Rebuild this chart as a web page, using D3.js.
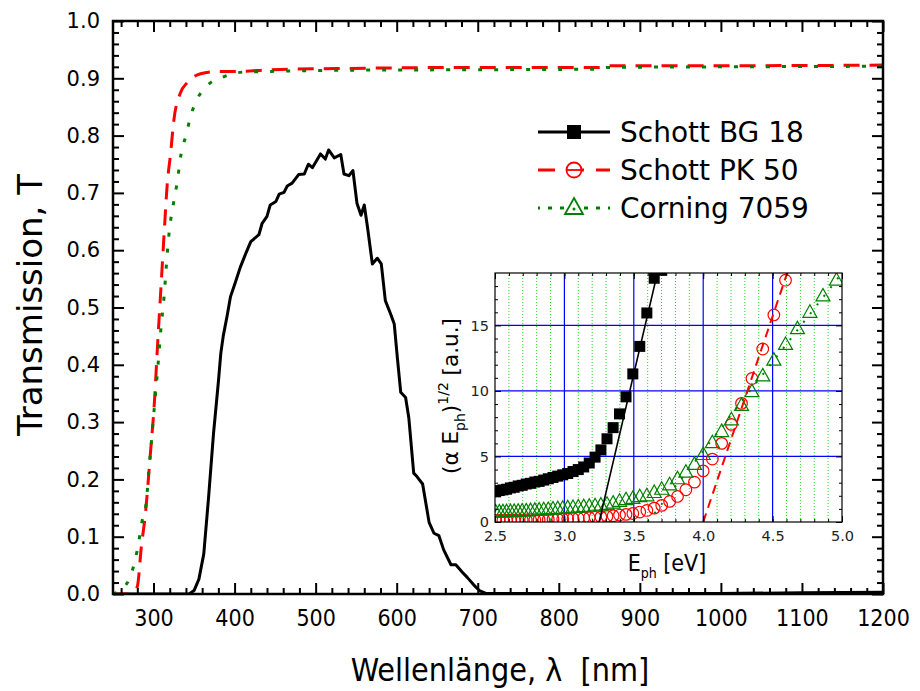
<!DOCTYPE html>
<html>
<head>
<meta charset="utf-8">
<script src="https://cdn.jsdelivr.net/npm/d3@7"></script>
<style>
	body { margin: 0; background: #fff; }
</style>
</head>
<body>
<svg id="chart" width="920" height="691"></svg>
<script>
// main plot: transmission over wavelength (nm)
const bg18Wl = [250, 344, 350, 356, 362, 368, 374, 380, 383, 386, 391, 395, 401, 407, 414, 420, 430, 434, 440, 444,
	451, 455, 461, 465, 471, 479, 486, 491, 496, 506, 512, 516, 523, 531, 535, 541, 546, 551, 556, 560,
	564, 570, 576, 581, 586, 593, 597, 601, 605, 611, 615, 621, 625, 632, 640, 646, 652, 658, 667, 673,
	681, 687, 695, 702, 710, 1000, 1100, 1200]
const bg18T = [0, 0, 0.006, 0.026, 0.07, 0.17, 0.28, 0.37, 0.42, 0.45, 0.487, 0.519, 0.544, 0.57, 0.595, 0.615, 0.627, 0.647, 0.659, 0.679,
	0.685, 0.698, 0.701, 0.712, 0.717, 0.732, 0.733, 0.75, 0.744, 0.768, 0.759, 0.775, 0.761, 0.767, 0.733, 0.73, 0.739, 0.682, 0.661, 0.679,
	0.64, 0.576, 0.586, 0.576, 0.512, 0.487, 0.471, 0.41, 0.352, 0.343, 0.307, 0.211, 0.205, 0.192, 0.125, 0.106, 0.102, 0.077, 0.051, 0.051,
	0.038, 0.029, 0.016, 0.006, 0.001, 0.001, 0.002, 0.003]
const pk50Wl = [250, 268, 275, 280, 285, 290, 296, 301, 305, 309, 313, 317, 321, 325, 333, 342, 358, 379, 403, 445, 527, 708, 850, 860, 1000, 1200]
const pk50T = [0, 0, 0.003, 0.013, 0.083, 0.14, 0.243, 0.333, 0.435, 0.531, 0.627, 0.717, 0.768, 0.826, 0.874, 0.893, 0.908, 0.912, 0.912, 0.915,
	0.917, 0.919, 0.919, 0.922, 0.922, 0.923]
const c7059Wl = [250, 255, 262, 270, 280, 286, 291, 294, 298, 301, 305, 309, 313, 317, 319, 325, 329, 334, 340, 346,
	354, 366, 387, 412, 445, 527, 708, 850, 860, 1000, 1200]
const c7059T = [0, 0.003, 0.01, 0.026, 0.077, 0.128, 0.16, 0.211, 0.275, 0.326, 0.39, 0.461, 0.519, 0.595, 0.627, 0.685, 0.717, 0.768, 0.8, 0.835,
	0.864, 0.887, 0.903, 0.911, 0.912, 0.914, 0.915, 0.916, 0.919, 0.92, 0.921]

const xTicks = [300, 400, 500, 600, 700, 800, 900, 1000, 1100, 1200]
const yTicks = [0, 0.1, 0.2, 0.3, 0.4, 0.5, 0.6, 0.7, 0.8, 0.9, 1.0]
const seriesNames = ["Schott BG 18", "Schott PK 50", "Corning 7059"]

// inset: Tauc plot (alpha*E)^1/2 over photon energy (eV)
const ephPts = [2.505, 2.531, 2.557, 2.583, 2.611, 2.638, 2.667, 2.696, 2.725, 2.756, 2.787, 2.818, 2.851, 2.884, 2.918, 2.952, 2.988,
	3.024, 3.062, 3.100, 3.139, 3.179, 3.221, 3.263, 3.307, 3.351, 3.397, 3.444, 3.493, 3.543, 3.594, 3.647, 3.701,
	3.758, 3.815, 3.875, 3.937, 4.000, 4.066, 4.133, 4.203, 4.276, 4.351, 4.429, 4.509, 4.593, 4.679, 4.769, 4.863, 4.960]
const bg18Tauc = [2.3, 2.4, 2.45, 2.5, 2.6, 2.65, 2.75, 2.8, 2.9, 2.95, 3.05, 3.1, 3.2, 3.3, 3.4, 3.5, 3.6, 3.7, 3.85, 4.0,
	4.2, 4.5, 4.95, 5.5, 6.35, 7.2, 8.25, 9.55, 11.3, 13.4, 15.95, 18.6, 19.2]
const pk50Tauc = [0.12, 0.12, 0.13, 0.13, 0.14, 0.14, 0.15, 0.15, 0.16, 0.17, 0.17, 0.18, 0.19, 0.2, 0.21, 0.22, 0.24, 0.25, 0.27, 0.29,
	0.31, 0.33, 0.36, 0.39, 0.43, 0.48, 0.53, 0.58, 0.65, 0.76, 0.88, 1.06, 1.27, 1.57, 1.95, 2.46, 3.04, 3.9, 4.8, 6.0,
	7.45, 9.05, 10.95, 13.2, 15.8, 18.45]
const c7059Tauc = [0.76, 0.77, 0.78, 0.79, 0.8, 0.81, 0.82, 0.84, 0.85, 0.87, 0.89, 0.91, 0.93, 0.96, 0.99, 1.02, 1.05, 1.08, 1.11, 1.14,
	1.17, 1.2, 1.24, 1.29, 1.35, 1.44, 1.58, 1.7, 1.8, 1.93, 2.0, 2.25, 2.5, 2.84, 3.3, 3.8, 4.4, 5.15, 6.05, 6.9,
	7.8, 8.9, 9.95, 11.15, 12.35, 13.55, 14.75, 16.0, 17.25, 18.45]
// linear fits (band gap extrapolation)
const bg18Fit = [[3.25, 0], [3.67, 19]]
const pk50Fit = [[4.0, 0], [4.605, 19]]
const c7059Fit = [[3.6, 0], [5.0, 19]]
const insetXTicks = [2.5, 3.0, 3.5, 4.0, 4.5, 5.0]
const insetYTicks = [0, 5, 10, 15]

const RED = "#ff0000"
const GREEN = "#008000"
const FONT = "DejaVu Sans, Verdana, sans-serif"
const FONT_C = "DejaVu Sans Condensed, Liberation Sans Narrow, sans-serif"

const svg = d3.select("#chart")
const defs = svg.append("defs")

function mirrorAxes(g, xs, ys, o){
	/* frame with inward ticks on all four sides, labels only bottom and left */
	const [y0, y1] = ys.range()
	const [x0, x1] = xs.range()
	const axes = [
		[d3.axisBottom(xs), `translate(0,${y0})`, o.xMajor, o.xMinor, o.xFmt],
		[d3.axisTop(xs), `translate(0,${y1})`, o.xMajor, o.xMinor, null],
		[d3.axisLeft(ys), `translate(${x0},0)`, o.yMajor, o.yMinor, o.yFmt],
		[d3.axisRight(ys), `translate(${x1},0)`, o.yMajor, o.yMinor, null]
	]
	axes.forEach(([ax, tr, major, minor, fmt], i) => {
		g.append("g").attr("transform", tr)
			.call(ax.tickValues(minor).tickSize(-o.minor).tickFormat(""))
		const ag = g.append("g").attr("transform", tr)
			.call(ax.tickValues(major).tickSize(-o.major)
				.tickPadding(i < 2 ? o.padX : o.padY)
				.tickFormat(fmt ? fmt : ""))
		ag.selectAll("text")
			.attr("fill", o.labelFill)
			.style("font-family", i < 2 ? o.fontX : o.fontY)
			.style("font-size", (i < 2 ? o.sizeX : o.sizeY) + "px")
	})
	g.selectAll(".domain").remove()
	g.selectAll(".tick line").attr("stroke", "#000").attr("stroke-width", o.tickWidth)
	g.append("rect")
		.attr("x", x0).attr("y", y1)
		.attr("width", x1 - x0).attr("height", y0 - y1)
		.attr("fill", "none").attr("stroke", "#000").attr("stroke-width", o.frameWidth)
}

// ---------- main plot ----------
const x = d3.scaleLinear().domain([250, 1200]).range([113, 883])
const y = d3.scaleLinear().domain([0, 1]).range([594, 21])

defs.append("clipPath").attr("id", "mainClip").append("rect")
	.attr("x", 113).attr("y", 21).attr("width", 770).attr("height", 573)

const mainLine = d3.line().x(d => x(d[0])).y(d => y(d[1]))
const smoothLine = d3.line().x(d => x(d[0])).y(d => y(d[1])).curve(d3.curveMonotoneX)

const curves = svg.append("g").attr("clip-path", "url(#mainClip)")
curves.append("path")
	.attr("d", mainLine(d3.zip(bg18Wl, bg18T)))
	.attr("fill", "none").attr("stroke", "#000").attr("stroke-width", 3)
	.attr("stroke-linejoin", "round")
curves.append("path")
	.attr("d", smoothLine(d3.zip(pk50Wl, pk50T)))
	.attr("fill", "none").attr("stroke", RED).attr("stroke-width", 3)
	.attr("stroke-dasharray", "16,10")
curves.append("path")
	.attr("d", smoothLine(d3.zip(c7059Wl, c7059T)))
	.attr("fill", "none").attr("stroke", GREEN).attr("stroke-width", 3)
	.attr("stroke-dasharray", "4,12")

mirrorAxes(svg.append("g"), x, y, {
	xMajor: xTicks, xMinor: d3.range(260, 1200, 20).filter(v => v % 100),
	yMajor: yTicks, yMinor: d3.range(0.02, 1, 0.02).filter(v => Math.abs(v * 10 - Math.round(v * 10)) > 1e-6),
	major: 11, minor: 6, padX: 16, padY: 13,
	xFmt: d3.format("d"), yFmt: d3.format(".1f"),
	fontX: FONT_C, fontY: FONT, sizeX: 23, sizeY: 21, labelFill: "#000",
	tickWidth: 2, frameWidth: 2.5
})

// axis titles
svg.append("text")
	.attr("transform", "translate(42,305) rotate(-90)")
	.attr("text-anchor", "middle")
	.style("font-family", FONT).style("font-size", "34px")
	.text("Transmission, T")
svg.append("text")
	.attr("x", 500).attr("y", 681)
	.attr("text-anchor", "middle")
	.attr("xml:space", "preserve")
	.style("font-family", FONT_C).style("font-size", "32px")
	.text("Wellenlänge, λ  [nm]")

// ---------- legend ----------
const legend = svg.append("g")
const legRows = [132, 170, 208]
const legStyle = [
	{color: "#000", dash: null},
	{color: RED, dash: "17,12"},
	{color: GREEN, dash: "4,8"}
]
seriesNames.forEach((name, i) => {
	const ly = legRows[i]
	const st = legStyle[i]
	legend.append("line")
		.attr("x1", 538).attr("x2", 610).attr("y1", ly).attr("y2", ly)
		.attr("stroke", st.color).attr("stroke-width", 3)
		.attr("stroke-dasharray", st.dash)
		.attr("stroke-dashoffset", i == 2 ? 2 : 0)
	if (i == 0){
		legend.append("rect").attr("x", 567).attr("y", ly - 7).attr("width", 14).attr("height", 14).attr("fill", "#000")
	} else if (i == 1){
		legend.append("circle").attr("cx", 574).attr("cy", ly).attr("r", 7.5)
			.attr("fill", "#fff").attr("stroke", RED).attr("stroke-width", 1.8)
		legend.append("line").attr("x1", 567).attr("x2", 581).attr("y1", ly).attr("y2", ly)
			.attr("stroke", RED).attr("stroke-width", 1.8)
	} else {
		legend.append("path")
			.attr("d", `M574,${ly - 10}L583,${ly + 6}L565,${ly + 6}Z`)
			.attr("fill", "#fff").attr("stroke", GREEN).attr("stroke-width", 1.8)
		legend.append("circle").attr("cx", 574).attr("cy", ly + 1).attr("r", 1.5).attr("fill", GREEN)
	}
	legend.append("text")
		.attr("x", 620).attr("y", ly)
		.attr("dominant-baseline", "central")
		.style("font-family", FONT).style("font-size", "28px")
		.text(name)
})

// ---------- inset ----------
const xi = d3.scaleLinear().domain([2.5, 5.0]).range([495, 842])
const yi = d3.scaleLinear().domain([0, 19]).range([522, 273])
const inset = svg.append("g")

inset.append("rect")
	.attr("x", 495).attr("y", 273).attr("width", 347).attr("height", 249)
	.attr("fill", "#fff")
defs.append("clipPath").attr("id", "insetClip").append("rect")
	.attr("x", 495).attr("y", 273).attr("width", 347).attr("height", 249)

// grid: fine green dotted verticals, blue majors
const minorE = d3.range(26, 50).map(v => v / 10).filter(v => Math.abs(v * 2 - Math.round(v * 2)) > 1e-6)
inset.append("g").selectAll("line").data(minorE).join("line")
	.attr("x1", d => xi(d)).attr("x2", d => xi(d))
	.attr("y1", yi(0)).attr("y2", yi(19))
	.attr("stroke", "#22dd22").attr("stroke-width", 1).attr("stroke-dasharray", "1,2")
inset.append("g").selectAll("line").data([3.0, 3.5, 4.0, 4.5]).join("line")
	.attr("x1", d => xi(d)).attr("x2", d => xi(d))
	.attr("y1", yi(0)).attr("y2", yi(19))
	.attr("stroke", "#0000ff").attr("stroke-width", 1.2)
inset.append("g").selectAll("line").data([5, 10, 15]).join("line")
	.attr("x1", xi(2.5)).attr("x2", xi(5))
	.attr("y1", d => yi(d)).attr("y2", d => yi(d))
	.attr("stroke", "#0000ff").attr("stroke-width", 1.2)

const insetPlot = inset.append("g").attr("clip-path", "url(#insetClip)")
const fitLine = d3.line().x(d => xi(d[0])).y(d => yi(d[1]))

// markers
insetPlot.append("g").selectAll("rect").data(d3.zip(ephPts, bg18Tauc)).join("rect")
	.attr("x", d => xi(d[0]) - 5.5).attr("y", d => yi(d[1]) - 5.5)
	.attr("width", 11).attr("height", 11).attr("fill", "#000")
insetPlot.append("g").selectAll("circle").data(d3.zip(ephPts, pk50Tauc)).join("circle")
	.attr("cx", d => xi(d[0])).attr("cy", d => yi(d[1])).attr("r", 5.8)
	.attr("fill", "none").attr("stroke", RED).attr("stroke-width", 1.2)
insetPlot.append("g").selectAll("path").data(d3.zip(ephPts, c7059Tauc)).join("path")
	.attr("d", d => {
		const cx = xi(d[0]), cy = yi(d[1])
		return `M${cx},${cy - 7.5}L${cx + 7},${cy + 5}L${cx - 7},${cy + 5}Z`
	})
	.attr("fill", "none").attr("stroke", GREEN).attr("stroke-width", 1.2)

// fit lines
insetPlot.append("path").attr("d", fitLine(bg18Fit))
	.attr("fill", "none").attr("stroke", "#000").attr("stroke-width", 1.6)
insetPlot.append("path").attr("d", fitLine(pk50Fit))
	.attr("fill", "none").attr("stroke", RED).attr("stroke-width", 2)
	.attr("stroke-dasharray", "9,6")
insetPlot.append("path").attr("d", fitLine(c7059Fit))
	.attr("fill", "none").attr("stroke", GREEN).attr("stroke-width", 2)
	.attr("stroke-dasharray", "2,9")

mirrorAxes(inset.append("g"), xi, yi, {
	xMajor: insetXTicks, xMinor: d3.range(26, 50).map(v => v / 10),
	yMajor: insetYTicks, yMinor: d3.range(1, 19).filter(v => v % 5),
	major: 6, minor: 3, padX: 9, padY: 6,
	xFmt: d3.format(".1f"), yFmt: d3.format("d"),
	fontX: FONT, fontY: FONT, sizeX: 14.5, sizeY: 14.5, labelFill: "#222",
	tickWidth: 1, frameWidth: 1.2
})

// inset axis titles
const ixt = inset.append("text")
	.attr("x", 667).attr("y", 571)
	.attr("text-anchor", "middle")
	.style("font-family", FONT_C).style("font-size", "23px")
ixt.append("tspan").text("E")
ixt.append("tspan").attr("dy", 7).style("font-size", "14px").text("ph")
ixt.append("tspan").attr("dy", -7).text(" [eV]")

const iyt = inset.append("text")
	.attr("transform", "translate(458,396) rotate(-90)")
	.attr("text-anchor", "middle")
	.style("font-family", FONT).style("font-size", "21.5px")
iyt.append("tspan").text("(α E")
iyt.append("tspan").attr("dy", 7).style("font-size", "14px").text("ph")
iyt.append("tspan").attr("dy", -7).text(")")
iyt.append("tspan").attr("dy", -10).style("font-size", "14px").text("1/2")
iyt.append("tspan").attr("dy", 10).text(" [a.u.]")
</script>
</body>
</html>
